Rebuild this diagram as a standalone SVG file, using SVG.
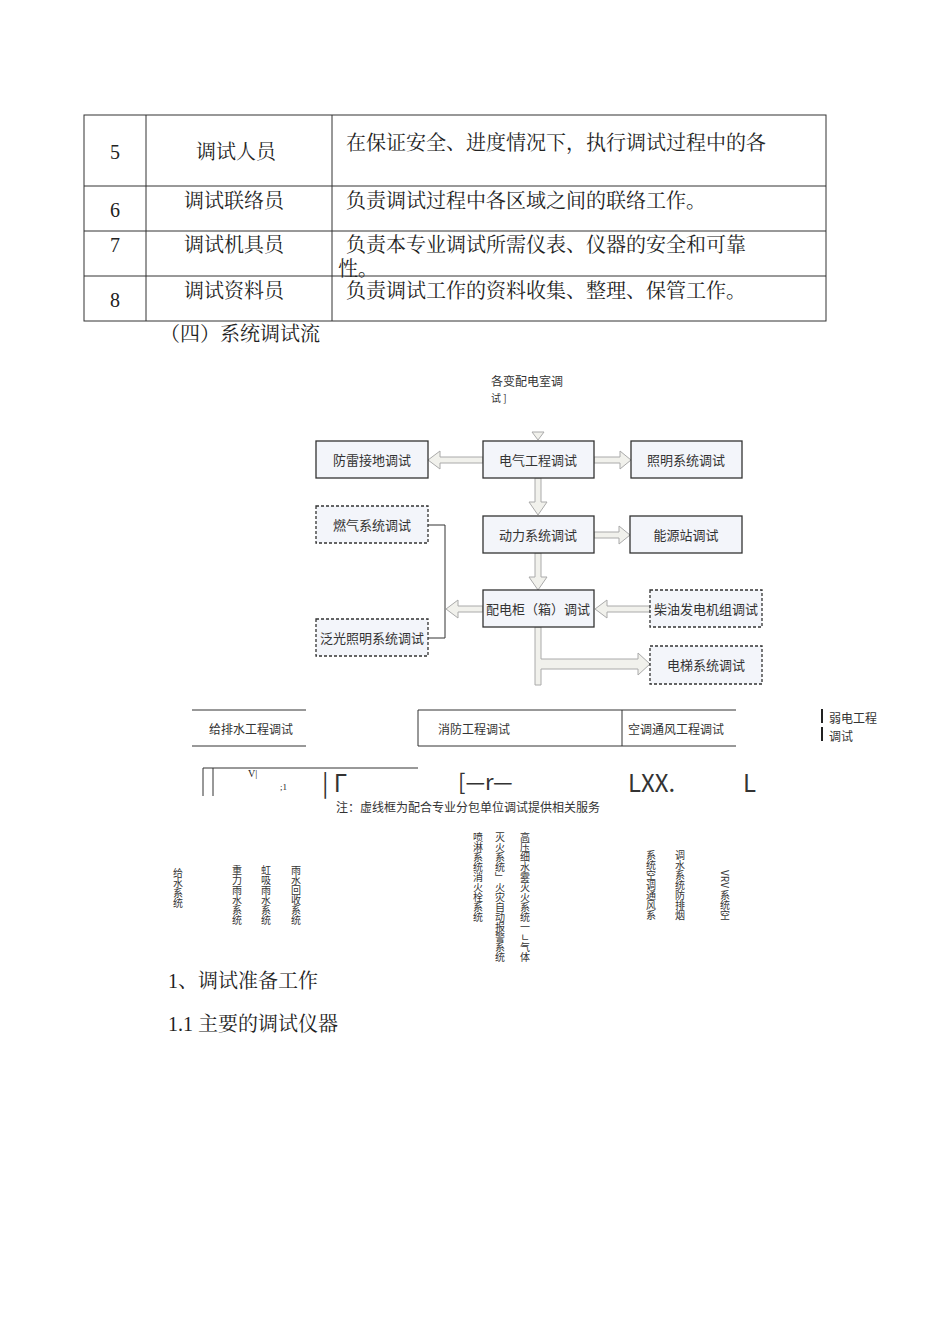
<svg xmlns="http://www.w3.org/2000/svg" width="950" height="1344" viewBox="0 0 950 1344">
<style>
.t{font-family:"Liberation Serif","Noto Serif CJK SC","Noto Sans CJK SC",serif;fill:#222}
.s{font-family:"Noto Sans CJK SC",sans-serif;fill:#333}
.b{fill:#f3f5fa;stroke:#333;stroke-width:1.3}
.d{fill:#f3f5fa;stroke:#333;stroke-width:1.3;stroke-dasharray:3 2}
.a{fill:#f1f1ec;stroke:#aaa;stroke-width:1}
.l{stroke:#333;stroke-width:1;fill:none}
.v{font-family:"Noto Sans CJK SC",sans-serif;font-size:10px;fill:#333;writing-mode:vertical-rl}
</style>
<rect width="950" height="1344" fill="#fff"/>
<g id="table" class="l">
<rect x="84" y="115" width="742" height="206"/>
<line x1="146" y1="115" x2="146" y2="321"/><line x1="332" y1="115" x2="332" y2="321"/>
<line x1="84" y1="186" x2="826" y2="186"/><line x1="84" y1="231" x2="826" y2="231"/><line x1="84" y1="276" x2="826" y2="276"/>
</g>
<g class="t" font-size="20">
<text x="110" y="159">5</text><text x="196" y="159">调试人员</text><text x="346" y="150">在保证安全、进度情况下，执行调试过程中的各</text>
<text x="110" y="217">6</text><text x="184" y="208">调试联络员</text><text x="346" y="208">负责调试过程中各区域之间的联络工作。</text>
<text x="110" y="252">7</text><text x="184" y="252">调试机具员</text><text x="346" y="252">负责本专业调试所需仪表、仪器的安全和可靠</text>
<text x="338" y="276">性。</text>
<text x="110" y="307">8</text><text x="184" y="298">调试资料员</text><text x="346" y="298">负责调试工作的资料收集、整理、保管工作。</text>
<text x="160" y="341">（四）系统调试流</text>
<text x="168" y="988">1、调试准备工作</text>
<text x="168" y="1031">1.1 主要的调试仪器</text>
</g>
<g id="connectors">
<polygon class="a" points="532,432 544,432 538,440"/>
<polygon class="a" points="483,457 440,457 440,451 428,460 440,469 440,463 483,463"/>
<polygon class="a" points="594,457 620,457 620,451 631,460 620,469 620,463 594,463"/>
<polygon class="a" points="535,478 541,478 541,502 547,502 538,515 529,502 535,502"/>
<polygon class="a" points="594,532 619,532 619,526 630,535 619,544 619,538 594,538"/>
<polygon class="a" points="535,553 541,553 541,577 547,577 538,590 529,577 535,577"/>
<polygon class="a" points="483,606 458,606 458,600 446,609 458,618 458,612 483,612"/>
<polygon class="a" points="650,606 607,606 607,600 595,609 607,618 607,612 650,612"/>
<polygon class="a" points="535,627 541,627 541,659 638,659 638,653 650,664 638,675 638,669 541,669 541,685 535,685"/>
<path class="l" d="M428,525H445V638H428"/>
</g>
<text class="s" x="491" y="386" font-size="12">各变配电室调</text>
<text class="s" x="491" y="402" font-size="10">试 ]</text>
<g id="n1"><rect class="b" x="316" y="441" width="112" height="37"/><text class="s" x="372" y="465" font-size="13" text-anchor="middle">防雷接地调试</text></g>
<g id="n2"><rect class="b" x="483" y="441" width="111" height="37"/><text class="s" x="538" y="465" font-size="13" text-anchor="middle">电气工程调试</text></g>
<g id="n3"><rect class="b" x="631" y="441" width="111" height="37"/><text class="s" x="686" y="465" font-size="13" text-anchor="middle">照明系统调试</text></g>
<g id="n4"><rect class="d" x="316" y="506" width="112" height="37"/><text class="s" x="372" y="530" font-size="13" text-anchor="middle">燃气系统调试</text></g>
<g id="n5"><rect class="b" x="483" y="516" width="111" height="37"/><text class="s" x="538" y="540" font-size="13" text-anchor="middle">动力系统调试</text></g>
<g id="n6"><rect class="b" x="630" y="516" width="112" height="37"/><text class="s" x="686" y="540" font-size="13" text-anchor="middle">能源站调试</text></g>
<g id="n7"><rect class="b" x="483" y="590" width="111" height="37"/><text class="s" x="538" y="614" font-size="13" text-anchor="middle">配电柜（箱）调试</text></g>
<g id="n8"><rect class="d" x="650" y="590" width="112" height="37"/><text class="s" x="706" y="614" font-size="13" text-anchor="middle">柴油发电机组调试</text></g>
<g id="n9"><rect class="d" x="316" y="619" width="112" height="37"/><text class="s" x="372" y="643" font-size="13" text-anchor="middle">泛光照明系统调试</text></g>
<g id="n10"><rect class="d" x="650" y="646" width="112" height="38"/><text class="s" x="706" y="670" font-size="13" text-anchor="middle">电梯系统调试</text></g>
<g id="bottom">
<path class="l" stroke="#888" d="M192,710H306M192,746H306"/>
<path class="l" d="M418,710H736M418,710V746M622,710V746"/>
<path class="l" stroke="#999" d="M418,746H736"/>
<path d="M822,709V723M822,727V741" stroke="#222" stroke-width="2"/>
<text class="s" x="209" y="734" font-size="12">给排水工程调试</text>
<text class="s" x="438" y="734" font-size="12">消防工程调试</text>
<text class="s" x="628" y="734" font-size="12">空调通风工程调试</text>
<text class="s" x="829" y="723" font-size="12">弱电工程</text>
<text class="s" x="829" y="741" font-size="12">调试</text>
<path class="l" d="M203,768V796M213,768V796M203,768H418"/>
<text class="t" x="248" y="777" font-size="10">V|</text>
<text class="t" x="280" y="790" font-size="9">;1</text>
<text class="s" x="322" y="792" font-size="24">| Γ</text>
<text class="s" x="458" y="790" font-size="22">[—r—</text>
<text class="s" x="628" y="792" font-size="24">LXX.</text>
<text class="s" x="743" y="792" font-size="24">L</text>
<text class="s" x="336" y="812" font-size="12">注：虚线框为配合专业分包单位调试提供相关服务</text>
</g>
<g id="vert">
<text class="v" x="178" y="868">给水系统</text>
<text class="v" x="237" y="865">重力雨水系统</text>
<text class="v" x="266" y="865">虹吸雨水系统</text>
<text class="v" x="296" y="865">雨水回收系统</text>
<text class="v" x="478" y="832">喷淋系统消火栓系统</text>
<text class="v" x="500" y="832">灭火系统」火灾自动报警系统</text>
<text class="v" x="525" y="832">高压细水雾灭火系统一ㄴ气体</text>
<text class="v" x="651" y="850">系统空调通风系</text>
<text class="v" x="680" y="850">调水系统防排烟</text>
<text class="v" x="725" y="870">VRV 系统空</text>
</g>
</svg>
